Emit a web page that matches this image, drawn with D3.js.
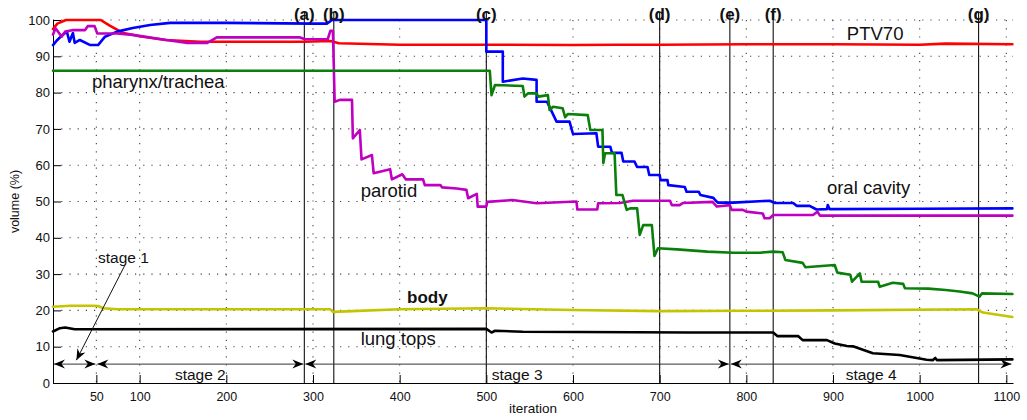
<!DOCTYPE html>
<html>
<head>
<meta charset="utf-8">
<script src="https://cdn.jsdelivr.net/npm/d3@7/dist/d3.min.js"></script>
<style>
  html, body { margin: 0; padding: 0; background: #fff; }
  svg { display: block; font-family: "Liberation Sans", Arial, Helvetica, sans-serif; }
</style>
</head>
<body>
<svg id="chart" width="1027" height="420"></svg>
<script>
// ---------- data ----------
const xTicks = [50, 100, 200, 300, 400, 500, 600, 700, 800, 900, 1000, 1100];
const yTicks = [0, 10, 20, 30, 40, 50, 60, 70, 80, 90, 100];

const ptv70 = [[0,97.5],[5,99],[15,100],[55,100],[65,98.5],[80,96.5],[100,95.5],[130,94.5],[170,94],[250,94],[290,94],[320,94.2],[330,93.6],[400,93.2],[500,93.2],[600,93.1],[650,93.2],[700,93.2],[800,93.3],[900,93.3],[1000,93.2],[1030,93.5],[1107,93.3]];

const oralCavity = [[0,93.1],[5,94.5],[11,95.9],[16,96.8],[19,94],[23,96.4],[25,93.7],[31,94.5],[43,93.1],[52,93.1],[60,95.4],[74,96.8],[92,97.8],[112,98.6],[135,99.2],[200,99.2],[300,99],[316,99],[322,100],[500,100],[500,91.3],[519,91.3],[519,83],[542,83.9],[558,83.5],[558,77.5],[570,77.5],[581,72],[596,72],[600,68.6],[627,68.8],[629,65.1],[643,65.1],[645,63.4],[656,63.4],[658,61],[671,61],[674,59.5],[686,59.5],[688,57.3],[700,57.3],[701,55.9],[709,55.9],[710,54.5],[729,54],[731,52.7],[745,52.7],[747,51.8],[762,51],[764,50.4],[767,49.7],[785,49.7],[827,50.2],[833,49.6],[854,49.6],[858,48.8],[873,48.8],[881,47.8],[893,47.9],[894,49],[896,47.9],[1000,48],[1107,48.1]];

const parotid = [[0,96],[3,97.7],[10,95.4],[14,96.8],[22,97.2],[37,97.2],[40,98.3],[48,98.3],[51,96.3],[58,96.3],[74,96.3],[92,95.9],[131,94.5],[155,93.7],[178,93.7],[189,95.2],[285,95.2],[291,94.7],[317,94.7],[320,97],[323,97],[325,77.5],[331,78],[345,78],[346,67.4],[354,69.7],[356,61.6],[368,62.8],[370,57.8],[389,58.9],[391,56.1],[403,57.5],[407,56.1],[427,56.1],[429,54.5],[447,54.5],[449,53.9],[466,53.6],[477,53.2],[479,50.9],[489,52.1],[490,48.6],[500,48.6],[501,49.9],[530,50.4],[558,49.5],[604,50],[605,47.8],[628,47.8],[629,49.5],[654,49.6],[669,50.2],[712,50.2],[714,49],[723,49],[727,49.6],[761,49.9],[766,48.6],[781,49],[783,47.7],[796,47.7],[800,47.2],[819,46.7],[821,45.4],[827,45.4],[831,46.3],[877,46.3],[882,47.2],[885,46.1],[1107,46.1]];

const pharynx = [[0,86],[500,86],[504,86],[506,79.3],[510,82.1],[542,81.8],[544,78.9],[548,79.8],[558,79.8],[560,78.9],[571,79.3],[573,75.2],[577,76.1],[588,75.7],[591,73.2],[594,74.1],[617,73.8],[620,69.7],[634,69.7],[635,60.6],[637,63.3],[648,63.3],[650,51.8],[657,51.8],[662,47.7],[666,48.1],[674,48.1],[677,40.8],[681,43.5],[691,43.5],[694,35],[698,37.1],[720,36.8],[755,36.2],[785,35.9],[816,35.9],[831,36.2],[842,36],[845,33.9],[865,33.1],[868,31.9],[902,32.5],[905,30.4],[920,29.8],[922,27.9],[931,30.2],[933,27.9],[952,27.9],[954,26.5],[969,27.6],[981,27.3],[983,26.1],[1010,26],[1030,25.6],[1046,25.2],[1061,24.7],[1069,23.8],[1072,24.7],[1107,24.5]];

const bodyVol = [[0,21],[20,21.3],[45,21.3],[52,21.2],[58,20.6],[74,20.3],[320,20.3],[323,19.6],[345,19.8],[400,20.3],[500,20.6],[600,20.1],[700,19.8],[800,19.9],[900,20],[1066,20.3],[1073,19.4],[1107,18.2]];

const lungTops = [[0,14.2],[8,15.1],[14,15.3],[25,14.8],[500,14.9],[506,13.9],[510,14.4],[542,14.1],[735,13.9],[831,13.9],[836,12.9],[860,12.9],[865,11.8],[893,11.8],[902,10.9],[916,10.2],[923,10.1],[946,8.2],[977,7.7],[1008,6.4],[1015,6.3],[1018,6.9],[1020,6.3],[1107,6.5]];

const seriesNames = ["PTV70", "oral cavity", "parotid", "pharynx/trachea", "body", "lung tops"];
const eventIters = [290, 324, 500, 700, 781, 831, 1068];
const eventLabels = ["(a)", "(b)", "(c)", "(d)", "(e)", "(f)", "(g)"];
const stageBounds = [0, 50, 290, 781, 1107];
const stageLabels = ["stage 1", "stage 2", "stage 3", "stage 4"];

// ---------- layout ----------
const svg = d3.select("#chart");
const x = d3.scaleLinear().domain([0, 1107.7]).range([53, 1013]);
const y = d3.scaleLinear().domain([0, 100]).range([383, 20]);

// defs: arrow heads
const defs = svg.append("defs");
defs.append("marker").attr("id", "arr").attr("viewBox", "-12 -6 14 12")
  .attr("refX", 0).attr("refY", 0).attr("markerWidth", 14).attr("markerHeight", 12)
  .attr("markerUnits", "userSpaceOnUse").attr("orient", "auto-start-reverse")
  .append("path").attr("d", "M0,0 L-11,-4.5 L-7.5,0 L-11,4.5 Z").attr("fill", "#000");

// grid
const grid = svg.append("g");
grid.selectAll("line.gx").data(xTicks).join("line")
  .attr("x1", d => x(d)).attr("x2", d => x(d)).attr("y1", y(100)).attr("y2", y(0))
  .attr("stroke", "#444").attr("stroke-width", 1.1).attr("stroke-dasharray", "1.2,7");
grid.selectAll("line.gy").data(yTicks.filter(d => d > 0)).join("line")
  .attr("x1", x(0)).attr("x2", 1013).attr("y1", d => y(d)).attr("y2", d => y(d))
  .attr("stroke", "#444").attr("stroke-width", 1.1).attr("stroke-dasharray", "1.2,7");

// axes
const xAxis = d3.axisBottom(x).tickValues(xTicks).tickFormat(d3.format("d"))
  .tickSizeInner(-8).tickSizeOuter(0).tickPadding(9);
const gx = svg.append("g").attr("transform", `translate(0,${y(0)})`).call(xAxis);
gx.selectAll("text").attr("font-size", 12.5).attr("fill", "#111").attr("font-family", "Liberation Sans, Arial, sans-serif");
gx.select(".domain").attr("stroke", "#000");
gx.selectAll(".tick line").attr("stroke", "#000");

const yAxis = d3.axisLeft(y).tickValues(yTicks).tickFormat(d3.format("d"))
  .tickSizeInner(-8).tickSizeOuter(0).tickPadding(3);
const gy = svg.append("g").attr("transform", `translate(${x(0)},0)`).call(yAxis);
gy.selectAll("text").attr("font-size", 13).attr("fill", "#111").attr("font-family", "Liberation Sans, Arial, sans-serif");
gy.select(".domain").attr("stroke", "#000");
gy.selectAll(".tick line").attr("stroke", "#000");

svg.append("text").attr("x", (x.range()[0] + x.range()[1]) / 2).attr("y", 413)
  .attr("text-anchor", "middle").attr("font-size", 13.5).attr("fill", "#111").text("iteration");
svg.append("text").attr("transform", `translate(19,${(y(0) + y(100)) / 2}) rotate(-90)`)
  .attr("text-anchor", "middle").attr("font-size", 12.5).attr("fill", "#111").text("volume (%)");

// event lines
svg.selectAll("line.ev").data(eventIters).join("line")
  .attr("x1", d => x(d)).attr("x2", d => x(d)).attr("y1", 12).attr("y2", y(0))
  .attr("stroke", "#111").attr("stroke-width", 1.1);

// series lines
const line = d3.line().x(d => x(d[0])).y(d => y(d[1]));
const seriesData = [ptv70, oralCavity, parotid, pharynx, bodyVol, lungTops];
const seriesColors = ["#ff0000", "#0000ff", "#c000c0", "#0a800a", "#c4c400", "#000000"];
svg.append("g").selectAll("path").data(seriesData).join("path")
  .attr("d", line).attr("fill", "none")
  .attr("stroke", (d, i) => seriesColors[i]).attr("stroke-width", 2.6)
  .attr("stroke-linejoin", "round").attr("stroke-linecap", "round");

// event labels
svg.selectAll("text.ev").data(eventIters).join("text")
  .attr("x", d => x(d)).attr("y", 20).attr("text-anchor", "middle")
  .attr("font-size", 17).attr("font-weight", "bold").attr("fill", "#111")
  .text((d, i) => eventLabels[i]);

// series labels
const lab = svg.append("g").attr("fill", "#111").attr("font-size", 18.5);
lab.append("text").attr("x", x(916)).attr("y", y(94.5)).text(seriesNames[0]);
lab.append("text").attr("x", x(893)).attr("y", y(52.2)).text(seriesNames[1]);
lab.append("text").attr("x", x(355)).attr("y", y(51.3)).text(seriesNames[2]);
lab.append("text").attr("x", x(45)).attr("y", y(81.3)).text(seriesNames[3]);
lab.append("text").attr("x", x(408.5)).attr("y", y(22)).attr("font-weight", "bold").attr("font-size", 17).text(seriesNames[4]);
lab.append("text").attr("x", x(355)).attr("y", y(10.5)).text(seriesNames[5]);

// stage arrows
const sg = svg.append("g");
for (let i = 0; i < stageLabels.length; i++) {
  const a = x(stageBounds[i]), b = x(stageBounds[i + 1]);
  sg.append("line").attr("x1", a + 1).attr("x2", b - 1).attr("y1", y(5.2)).attr("y2", y(5.2))
    .attr("stroke", "#333").attr("stroke-width", 1)
    .attr("marker-start", "url(#arr)").attr("marker-end", "url(#arr)");
  if (i > 0) {
    sg.append("text").attr("x", (a + b) / 2).attr("y", 380).attr("text-anchor", "middle")
      .attr("font-size", 15.5).attr("fill", "#111").text(stageLabels[i]);
  }
}
sg.append("text").attr("x", x(52)).attr("y", y(33)).attr("font-size", 15.5).attr("fill", "#111").text(stageLabels[0]);
sg.append("line").attr("x1", 125).attr("y1", 265).attr("x2", x(27)).attr("y2", y(6.3))
  .attr("stroke", "#111").attr("stroke-width", 1).attr("marker-end", "url(#arr)");
</script>
</body>
</html>
